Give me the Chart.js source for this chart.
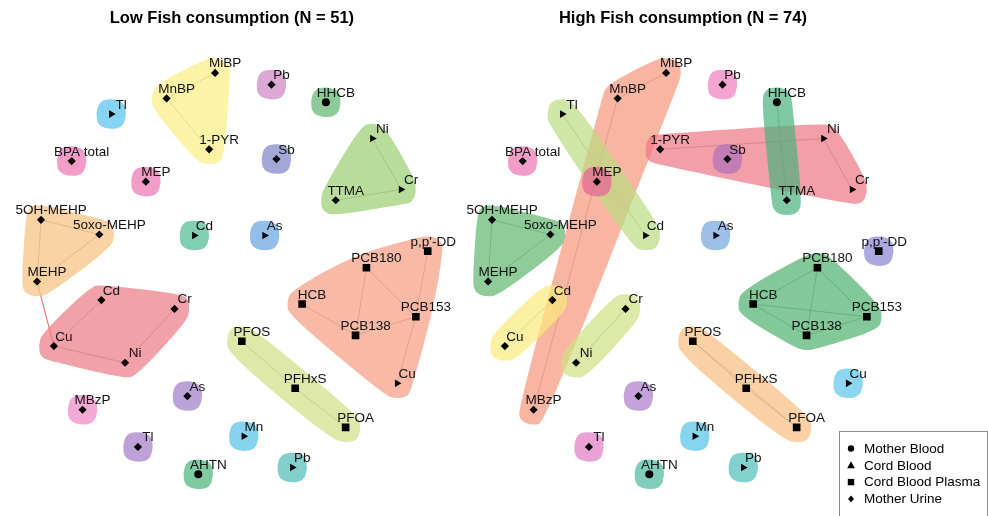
<!DOCTYPE html>
<html>
<head>
<meta charset="utf-8">
<script src="https://cdn.jsdelivr.net/npm/chart.js@4.4.1/dist/chart.umd.min.js"></script>
<style>
  html, body { margin: 0; padding: 0; background: #ffffff; }
  #wrap { position: relative; width: 988px; height: 516px; }
</style>
</head>
<body>
<div id="wrap"><canvas id="net" width="988" height="516"></canvas></div>
<script>
// ---- exposures (network nodes), shared layout for both panels ----
const nodeLabels = ['MiBP', 'MnBP', '1-PYR', 'Pb', 'HHCB', 'Tl', 'BPA total', 'Sb', 'Ni', 'Cr',
  'TTMA', 'MEP', '5OH-MEHP', '5oxo-MEHP', 'Cd', 'As', "p,p'-DDE", 'MEHP', 'Cd', 'Cr',
  'Cu', 'Ni', 'PCB180', 'HCB', 'PCB153', 'PCB138', 'Cu', 'PFOS', 'PFHxS', 'PFOA',
  'MBzP', 'As', 'Mn', 'Tl', 'AHTN', 'Pb'];
// sampling matrix: MB mother blood, CB cord blood, P cord blood plasma, U mother urine
const nodeMatrix = ['U', 'U', 'U', 'U', 'MB', 'CB', 'U', 'U', 'CB', 'CB',
  'U', 'U', 'U', 'U', 'CB', 'CB', 'P', 'U', 'U', 'U',
  'U', 'U', 'P', 'P', 'P', 'P', 'CB', 'P', 'P', 'P',
  'U', 'U', 'CB', 'U', 'MB', 'CB'];
const layoutX = [212, 163, 206, 269, 324, 107, 67, 274, 371, 400,
  334, 142, 36, 95, 191, 262, 427, 32, 97, 171,
  49, 121, 365, 300, 415, 354, 396, 239, 293, 344,
  78, 184, 241, 134, 195, 290];
const layoutY = [69, 95, 147, 81, 99, 111, 159, 157, 136, 188,
  199, 180, 219, 234, 235, 235, 251, 282, 301, 310,
  348, 365, 268, 305, 318, 337, 386, 343, 391, 431,
  413, 399, 440, 451, 479, 472];

const panelTitles = ['Low Fish consumption (N = 51)', 'High Fish consumption (N = 74)'];
const matrixNames = { MB: 'Mother Blood', CB: 'Cord Blood', P: 'Cord Blood Plasma', U: 'Mother Urine' };
const legendOrder = ['MB', 'CB', 'P', 'U'];

// ---- low fish consumption network ----
const lowEdges = [[0, 1], [1, 2], [8, 9], [9, 10], [12, 13], [12, 17], [13, 17], [18, 20], [19, 21], [20, 21],
  [16, 24], [22, 24], [22, 25], [23, 25], [25, 24], [24, 26], [27, 28], [28, 29]];
const lowBridges = [[17, 20]];
const lowGroups = [[0, 1, 2], [3], [4], [5], [6], [7], [8, 9, 10], [11], [12, 13, 17], [14], [15],
  [16, 22, 23, 24, 25, 26], [18, 19, 20, 21], [27, 28, 29], [30], [31], [32], [33], [34], [35]];
const lowGroupColors = ['#FCF3A6', '#DCA8D6', '#8ECB9B', '#86D4F1', '#F29CC8', '#A4A8D8', '#B8DC9A', '#F29CC8',
  '#FAD3A4', '#80CFB3', '#93BEEA', '#F8BAA6', '#F3A1A8', '#DEE9A9', '#F5A9D6', '#BAA3D7', '#85D3EC',
  '#BEA2D7', '#80CA9F', '#82D0CB'];

// ---- high fish consumption network ----
const highEdges = [[0, 1], [1, 30], [5, 14], [2, 8], [8, 9], [4, 10], [12, 13], [12, 17], [13, 17], [18, 20],
  [19, 21], [22, 23], [22, 24], [22, 25], [23, 24], [23, 25], [25, 24], [27, 28], [28, 29], [27, 29]];
const highBridges = [];
const highGroups = [[0, 1, 30], [5, 14], [11], [2, 8, 9], [4, 10], [7], [3], [6], [12, 13, 17], [15], [16],
  [18, 20], [19, 21], [22, 23, 24, 25], [26], [27, 28, 29], [31], [32], [33], [34], [35]];
const highGroupColors = ['#F8B6A2', '#CFE6A6', '#EE8FB5', '#F39FA9', '#7FC9A4', '#C69ACF', '#F4A5D0', '#F29CC8',
  '#8FCC99', '#9EBFE8', '#ABA9DD', '#FCF0A2', '#DDEAA7', '#83C899', '#8CD6F2', '#FAD0A5', '#C6A2DA',
  '#86D4EE', '#E9A2D4', '#80CDB9', '#83D1CE'];

// ---- drawing settings ----
const W = 988, H = 516;
const PANEL_SHIFT = 456;          // horizontal offset of the second panel, layout units
const TITLE_CENTER = 229;
const EXPAND_AXIS = 15.5;         // px, outline expansion along x / y
const EXPAND_DIAG = 17.5;         // px, outline expansion along diagonals
const GROUP_ALPHA = 0.7;
const FONT = '"Liberation Sans", Arial, Helvetica, sans-serif';

const markers = {
  MB: { style: 'circle', radius: 4, rotation: 0 },
  CB: { style: 'triangle', radius: 4.4, rotation: 90 },
  P: { style: 'rect', radius: 5.4, rotation: 0 },
  U: { style: 'rectRot', radius: 4.1, rotation: 0 }
};

function edgeSet(pairs, axis, color, width) {
  const data = [];
  pairs.forEach(([a, b]) => {
    data.push({ x: layoutX[a], y: layoutY[a] }, { x: layoutX[b], y: layoutY[b] }, { x: NaN, y: NaN });
  });
  return {
    xAxisID: axis, yAxisID: 'y', order: 2, data,
    showLine: true, spanGaps: false, tension: 0,
    borderColor: color, borderWidth: width, pointRadius: 0, pointHoverRadius: 0
  };
}

function nodeSet(axis) {
  return {
    xAxisID: axis, yAxisID: 'y', order: 1, isNodes: true,
    data: layoutX.map((x, i) => ({ x, y: layoutY[i] })),
    pointStyle: nodeMatrix.map(m => markers[m].style),
    pointRadius: nodeMatrix.map(m => markers[m].radius),
    pointHoverRadius: nodeMatrix.map(m => markers[m].radius),
    pointRotation: nodeMatrix.map(m => markers[m].rotation),
    pointBackgroundColor: '#000000',
    pointBorderWidth: 0,
    showLine: false
  };
}

const panels = [
  { axis: 'xL', title: panelTitles[0], groups: lowGroups, colors: lowGroupColors },
  { axis: 'xR', title: panelTitles[1], groups: highGroups, colors: highGroupColors }
];

// translucent fill that reads as `hex` on a white page
function veil(hex, a) {
  const c = [1, 3, 5].map(i => parseInt(hex.slice(i, i + 2), 16));
  const f = v => Math.max(0, Math.round(255 - (255 - v) / a));
  return `rgba(${f(c[0])},${f(c[1])},${f(c[2])},${a})`;
}

function convexHull(pts) {
  const p = pts.slice().sort((a, b) => a[0] - b[0] || a[1] - b[1]);
  const cross = (o, a, b) => (a[0] - o[0]) * (b[1] - o[1]) - (a[1] - o[1]) * (b[0] - o[0]);
  const lower = [], upper = [];
  for (const q of p) {
    while (lower.length >= 2 && cross(lower[lower.length - 2], lower[lower.length - 1], q) <= 0) lower.pop();
    lower.push(q);
  }
  for (let i = p.length - 1; i >= 0; i--) {
    const q = p[i];
    while (upper.length >= 2 && cross(upper[upper.length - 2], upper[upper.length - 1], q) <= 0) upper.pop();
    upper.push(q);
  }
  lower.pop(); upper.pop();
  return lower.concat(upper);
}

// smoothed outline around the members: hull of an octagon per node, corners rounded
function groupPath(ctx, centers) {
  const pts = [];
  centers.forEach(([x, y]) => {
    for (let k = 0; k < 8; k++) {
      const a = k * Math.PI / 4 + 0.08;
      const r = k % 2 ? EXPAND_DIAG : EXPAND_AXIS;
      pts.push([x + r * Math.cos(a), y + r * Math.sin(a)]);
    }
  });
  const hull = convexHull(pts);
  const n = hull.length;
  const mid = (a, b) => [(a[0] + b[0]) / 2, (a[1] + b[1]) / 2];
  const start = mid(hull[n - 1], hull[0]);
  ctx.beginPath();
  ctx.moveTo(start[0], start[1]);
  for (let i = 0; i < n; i++) {
    const v = hull[i], m = mid(hull[i], hull[(i + 1) % n]);
    ctx.quadraticCurveTo(v[0], v[1], m[0], m[1]);
  }
  ctx.closePath();
}

function drawGroups(chart, panel) {
  const ctx = chart.ctx, xs = chart.scales[panel.axis], ys = chart.scales.y;
  panel.groups.forEach((members, g) => {
    const centers = members.map(i => [xs.getPixelForValue(layoutX[i]), ys.getPixelForValue(layoutY[i])]);
    ctx.save();
    groupPath(ctx, centers);
    ctx.fillStyle = veil(panel.colors[g], GROUP_ALPHA);
    ctx.fill();
    ctx.restore();
  });
}

function legendMark(ctx, kind, x, y) {
  ctx.beginPath();
  if (kind === 'MB') ctx.arc(x, y, 3.2, 0, Math.PI * 2);
  else if (kind === 'CB') { ctx.moveTo(x, y - 4); ctx.lineTo(x + 3.8, y + 3); ctx.lineTo(x - 3.8, y + 3); ctx.closePath(); }
  else if (kind === 'P') ctx.rect(x - 3.2, y - 3.2, 6.4, 6.4);
  else { ctx.moveTo(x, y - 3.3); ctx.lineTo(x + 3, y); ctx.lineTo(x, y + 3.3); ctx.lineTo(x - 3, y); ctx.closePath(); }
  ctx.fill();
}

const networkPlugin = {
  id: 'network',
  beforeDatasetsDraw(chart) { chart.$groupsDrawn = false; },
  beforeDatasetDraw(chart, args) {
    if (chart.$groupsDrawn || !chart.data.datasets[args.index].isNodes) return;
    chart.$groupsDrawn = true;
    panels.forEach(p => drawGroups(chart, p));
  },
  afterDatasetsDraw(chart) {
    const ctx = chart.ctx, ys = chart.scales.y;
    panels.forEach(panel => {
      const xs = chart.scales[panel.axis];
      const left = xs.getPixelForValue(0), right = xs.getPixelForValue(PANEL_SHIFT);
      // node labels, clipped to the panel
      ctx.save();
      ctx.beginPath();
      ctx.rect(left, 0, right - left, H);
      ctx.clip();
      ctx.fillStyle = '#111111';
      ctx.font = '13.5px ' + FONT;
      ctx.textAlign = 'center';
      ctx.textBaseline = 'alphabetic';
      nodeLabels.forEach((t, i) => {
        ctx.fillText(t, xs.getPixelForValue(layoutX[i]) + 10, ys.getPixelForValue(layoutY[i]) - 5.5);
      });
      ctx.restore();
      // panel title
      ctx.save();
      ctx.fillStyle = '#000000';
      ctx.font = 'bold 16.5px ' + FONT;
      ctx.textAlign = 'center';
      ctx.textBaseline = 'alphabetic';
      ctx.fillText(panel.title, xs.getPixelForValue(TITLE_CENTER), 23);
      ctx.restore();
    });
    // legend
    ctx.save();
    ctx.fillStyle = '#ffffff';
    ctx.fillRect(826, 405, W - 826, H - 405);
    ctx.strokeStyle = '#8c8c8c';
    ctx.lineWidth = 1;
    ctx.strokeRect(839.5, 431.5, 148, 100);
    ctx.fillStyle = '#000000';
    ctx.font = '13.5px ' + FONT;
    ctx.textAlign = 'left';
    ctx.textBaseline = 'middle';
    legendOrder.forEach((k, i) => {
      const y = 448.5 + i * 16.8;
      legendMark(ctx, k, 851, y);
      ctx.fillText(matrixNames[k], 864, y + 0.5);
    });
    ctx.restore();
  }
};

const edgeGrey = 'rgba(70,70,70,0.6)';
const bridgeRed = '#F0504F';

new Chart(document.getElementById('net'), {
  type: 'scatter',
  data: {
    datasets: [
      edgeSet(lowEdges, 'xL', edgeGrey, 0.75),
      edgeSet(lowBridges, 'xL', bridgeRed, 0.9),
      edgeSet(highEdges, 'xR', edgeGrey, 0.75),
      edgeSet(highBridges, 'xR', bridgeRed, 0.9),
      nodeSet('xL'),
      nodeSet('xR')
    ]
  },
  options: {
    responsive: false,
    animation: false,
    events: [],
    layout: { padding: 0 },
    scales: {
      xL: { type: 'linear', display: false, min: 0, max: W },
      xR: { type: 'linear', display: false, min: -PANEL_SHIFT, max: W - PANEL_SHIFT },
      y: { type: 'linear', display: false, min: 0, max: H, reverse: true }
    },
    plugins: {
      legend: { display: false },
      tooltip: { enabled: false },
      title: { display: false }
    }
  },
  plugins: [networkPlugin]
});
</script>
</body>
</html>
